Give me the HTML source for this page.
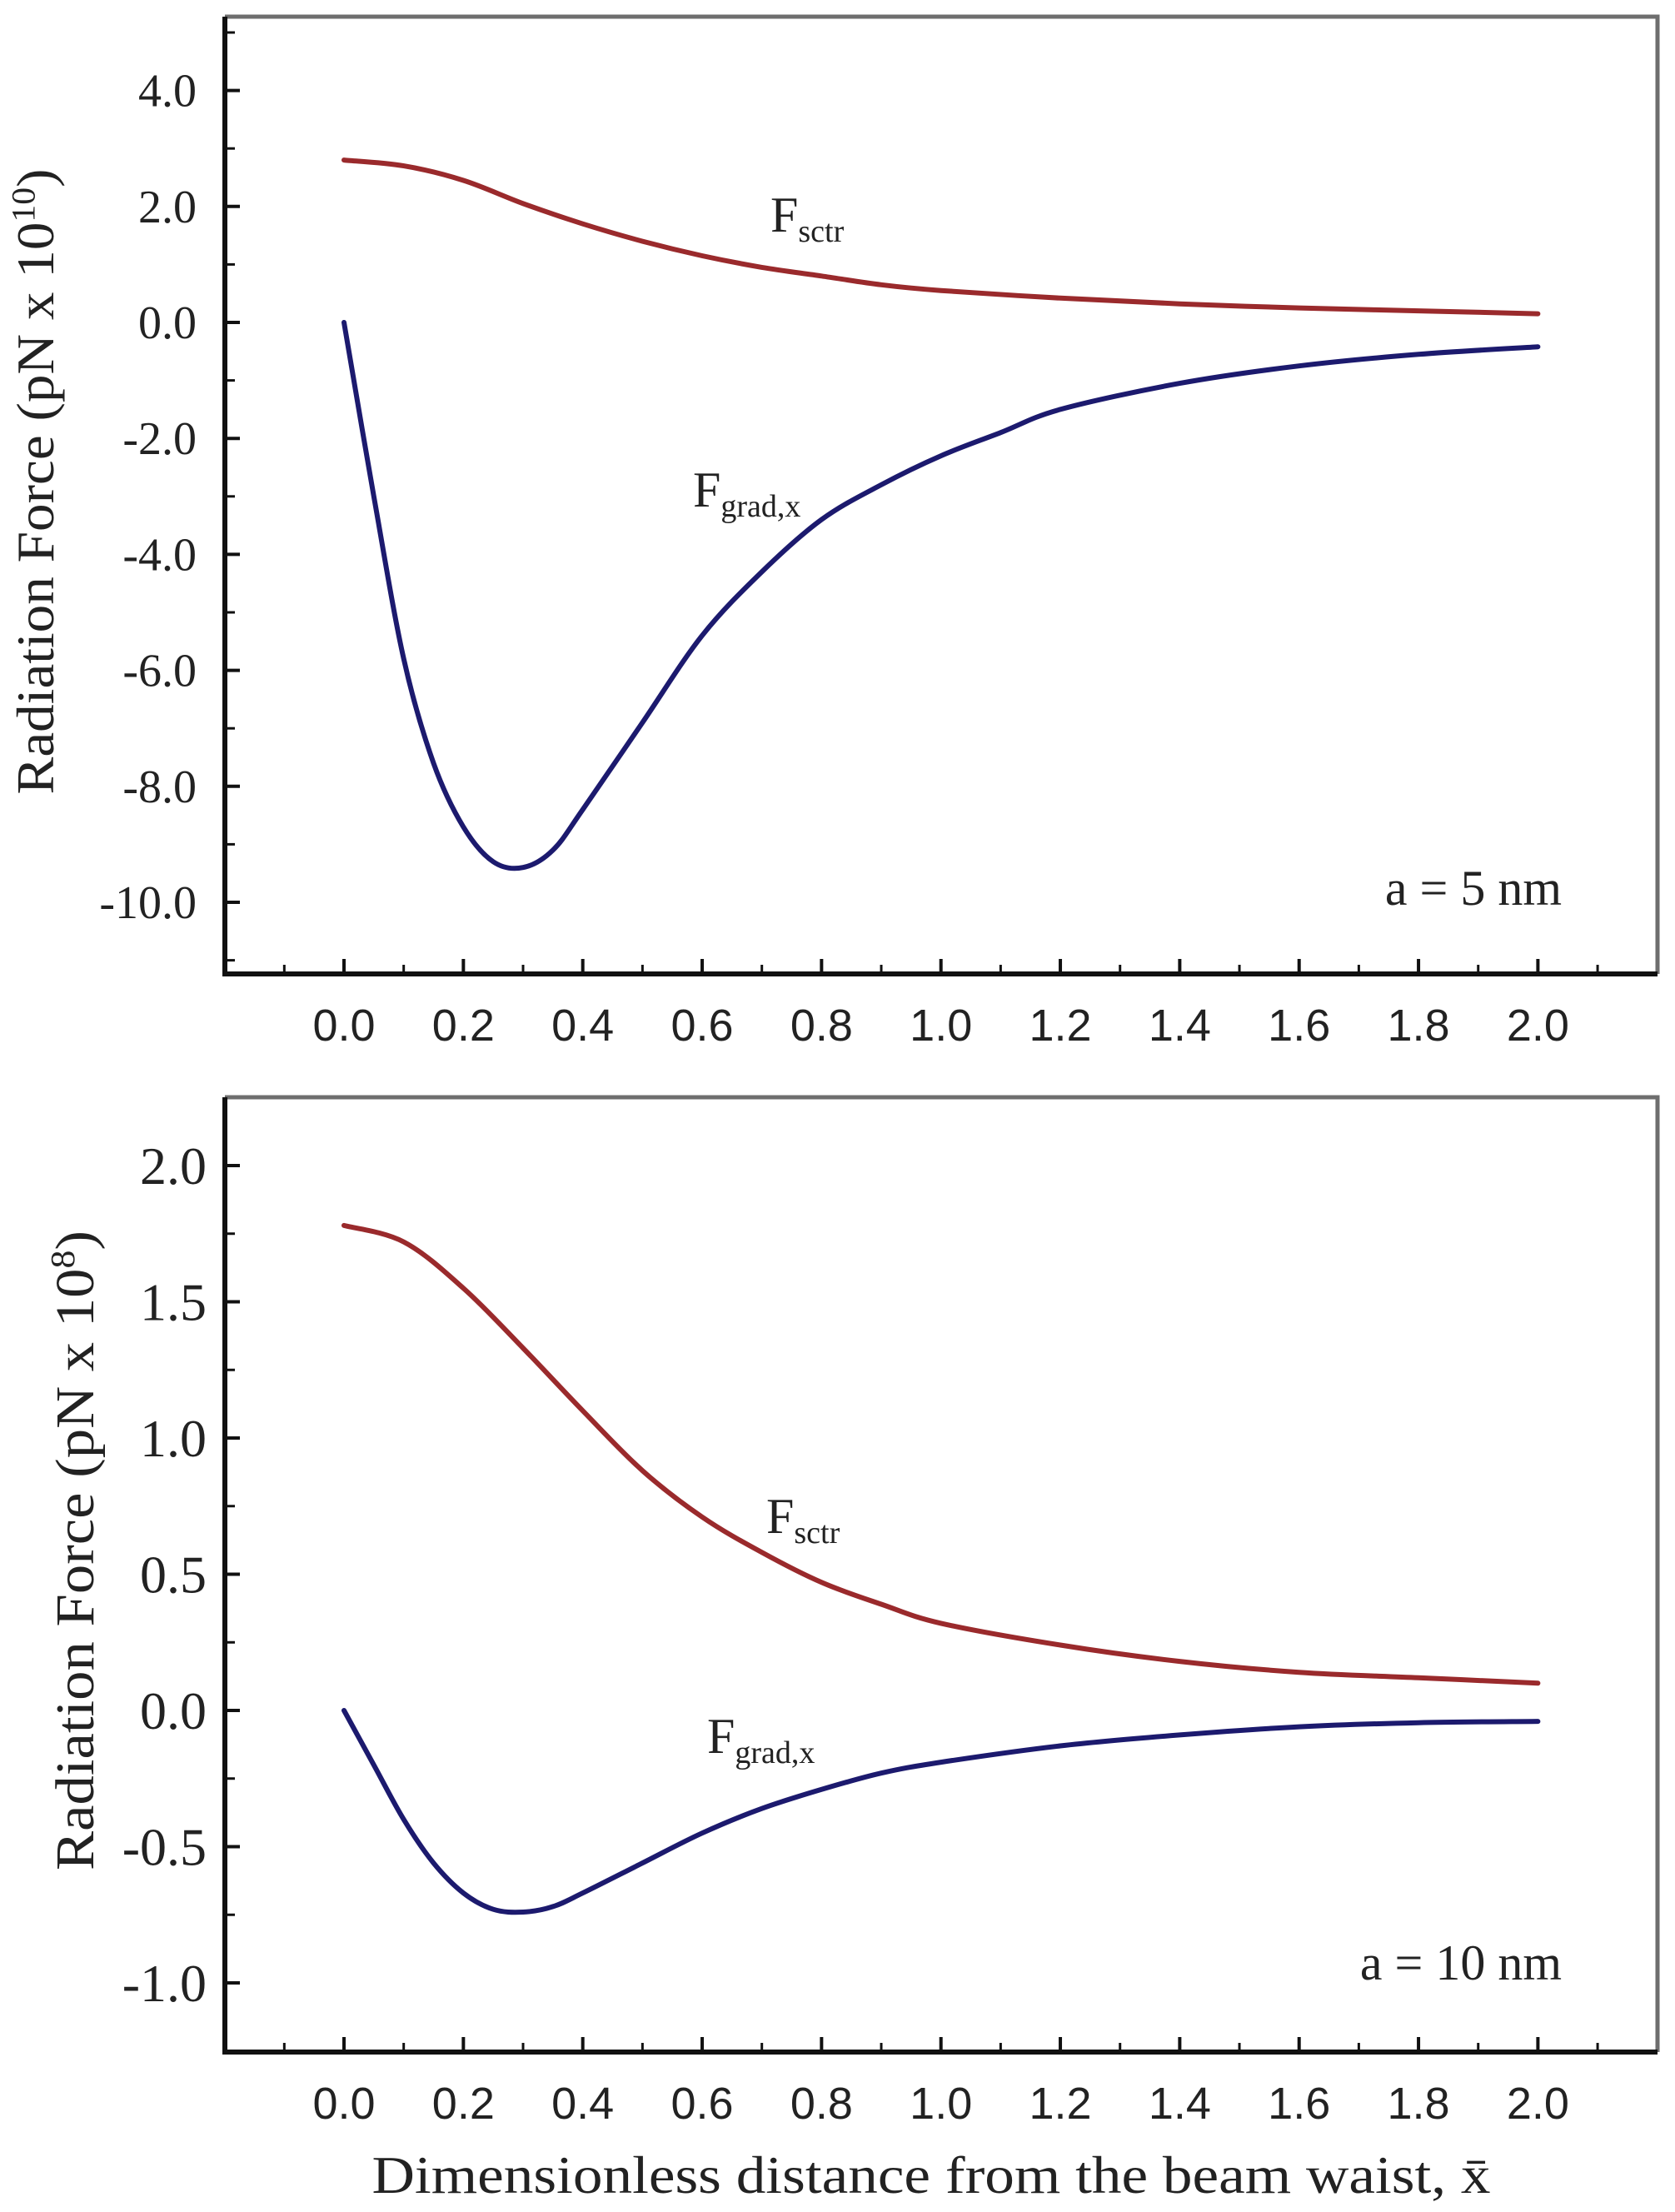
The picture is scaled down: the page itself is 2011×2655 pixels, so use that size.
<!DOCTYPE html>
<html><head><meta charset="utf-8">
<style>
html,body{margin:0;padding:0;background:#fff;}
svg{display:block;}
</style></head>
<body>
<svg id="fig" width="2011" height="2655" viewBox="0 0 2011 2655" xmlns="http://www.w3.org/2000/svg"></svg>
<script>
// ---- data ----
const xTicks = [0.0,0.2,0.4,0.6,0.8,1.0,1.2,1.4,1.6,1.8,2.0];
const xTickLabels = ["0.0","0.2","0.4","0.6","0.8","1.0","1.2","1.4","1.6","1.8","2.0"];
const topYTicks = [4,2,0,-2,-4,-6,-8,-10];
const topYTickLabels = ["4.0","2.0","0.0","-2.0","-4.0","-6.0","-8.0","-10.0"];
const botYTicks = [2.0,1.5,1.0,0.5,0.0,-0.5,-1.0];
const botYTickLabels = ["2.0","1.5","1.0","0.5","0.0","-0.5","-1.0"];

const topSctrX = [0,0.1,0.2,0.3,0.4,0.5,0.6,0.7,0.8,0.9,1.0,1.2,1.4,1.6,1.8,2.0];
const topSctrY = [2.8,2.7,2.45,2.05,1.7,1.4,1.15,0.95,0.8,0.65,0.55,0.42,0.32,0.25,0.2,0.15];
const topGradX = [0,0.05,0.1,0.15,0.2,0.25,0.3,0.35,0.4,0.5,0.6,0.7,0.8,0.9,1.0,1.1,1.2,1.4,1.6,1.8,2.0];
const topGradY = [0,-3,-5.8,-7.6,-8.7,-9.3,-9.4,-9.1,-8.4,-6.9,-5.4,-4.3,-3.4,-2.8,-2.3,-1.9,-1.5,-1.05,-0.75,-0.55,-0.42];

const botSctrX = [0,0.1,0.2,0.3,0.4,0.5,0.6,0.7,0.8,0.9,1.0,1.2,1.4,1.6,1.8,2.0];
const botSctrY = [1.78,1.72,1.55,1.33,1.1,0.88,0.71,0.58,0.47,0.39,0.32,0.24,0.18,0.14,0.12,0.1];
const botGradX = [0,0.05,0.1,0.15,0.2,0.25,0.3,0.35,0.4,0.5,0.6,0.7,0.8,0.9,1.0,1.2,1.4,1.6,1.8,2.0];
const botGradY = [0,-0.2,-0.4,-0.56,-0.67,-0.73,-0.74,-0.72,-0.67,-0.56,-0.45,-0.36,-0.29,-0.23,-0.19,-0.13,-0.09,-0.06,-0.045,-0.04];

const NS = "http://www.w3.org/2000/svg";
const svg = document.getElementById('fig');
function mk(tag, attrs, parent){
  const e = document.createElementNS(NS, tag);
  for (const k in attrs) e.setAttribute(k, attrs[k]);
  (parent||svg).appendChild(e);
  return e;
}
function xScale(v){ return 413 + 716.7*v; }
const SERIF = '"Liberation Serif", serif';
const SANS = '"Liberation Sans", sans-serif';

function smoothPath(pts){
  let d = 'M' + pts[0][0].toFixed(1) + ' ' + pts[0][1].toFixed(1);
  for (let i=0;i<pts.length-1;i++){
    const p0 = pts[Math.max(0,i-1)], p1 = pts[i], p2 = pts[i+1], p3 = pts[Math.min(pts.length-1,i+2)];
    const c1x = p1[0] + (p2[0]-p0[0])/6, c1y = p1[1] + (p2[1]-p0[1])/6;
    const c2x = p2[0] - (p3[0]-p1[0])/6, c2y = p2[1] - (p3[1]-p1[1])/6;
    d += ` C${c1x.toFixed(1)} ${c1y.toFixed(1)} ${c2x.toFixed(1)} ${c2y.toFixed(1)} ${p2[0].toFixed(1)} ${p2[1].toFixed(1)}`;
  }
  return d;
}

function panel(cfg){
  const g = mk('g', {});
  
  
  const L=270, R=1990, T=cfg.top, B=cfg.bottom;
  const fr = mk('path', {d:`M${L} ${T} H${R} V${B}`, fill:'none', stroke:'#6e6e6e', 'stroke-width':5}, g);
  
  
  const ax = mk('path', {d:`M${L} ${T} V${B} H${R}`, fill:'none', stroke:'#111', 'stroke-width':6}, g);
  
  
  for (let i=0;i<xTicks.length;i++){
    const x = xScale(xTicks[i]);
    const t = mk('line', {x1:x, x2:x, y1:B, y2:B-18, stroke:'#111', 'stroke-width':4}, g);
    
    
    const lb = mk('text', {x:x, y:B+80, 'font-family':SANS, 'font-size':54, 'text-anchor':'middle', fill:'#222'}, g);
    lb.textContent = xTickLabels[i];
    
    
  }
  for (let v=-0.1; v<2.15; v+=0.2){
    const x = xScale(v);
    const t = mk('line', {x1:x, x2:x, y1:B, y2:B-11, stroke:'#111', 'stroke-width':3}, g);
    
    
  }
  for (let i=0;i<cfg.yTicks.length;i++){
    const y = cfg.yScale(cfg.yTicks[i]);
    const t = mk('line', {x1:L, x2:L+18, y1:y, y2:y, stroke:'#111', 'stroke-width':4}, g);
    
    
    const lb = mk('text', {x:cfg.labelRight, y:y+cfg.yFont*0.34, 'font-family':SERIF, 'font-size':cfg.yFont, 'text-anchor':'end', fill:'#222'}, g);
    lb.textContent = cfg.yLabels[i];
    
    
  }
  for (const v of cfg.minor){
    const y = cfg.yScale(v);
    const t = mk('line', {x1:L, x2:L+12, y1:y, y2:y, stroke:'#111', 'stroke-width':3}, g);
    
    
  }
  const yt = mk('text', {x:0, y:0, transform:`translate(${cfg.titleX},${cfg.titleY}) rotate(-90)`, 'font-family':SERIF, 'font-size':cfg.titleFont, 'text-anchor':'middle', fill:'#222', textLength:cfg.titleLen, lengthAdjust:'spacingAndGlyphs'}, g);
  
  
  yt.appendChild(document.createTextNode('Radiation Force (pN x 10'));
  const sup = mk('tspan', {dy:-cfg.titleFont*0.35, 'font-size':cfg.titleFont*0.62}, yt);
  sup.textContent = cfg.exp;
  const cl = mk('tspan', {dy:cfg.titleFont*0.35}, yt);
  cl.textContent = ')';
  function line(xs, ys, color, name){
    const pts = xs.map((x,i)=>[xScale(x), cfg.yScale(ys[i])]);
    const p = mk('path', {d:smoothPath(pts), fill:'none', stroke:color, 'stroke-width':6, 'stroke-linejoin':'round', 'stroke-linecap':'round'}, g);
    
    
  }
  line(cfg.sx, cfg.sy, '#9a2a2c', 'f-sctr-line');
  line(cfg.gx, cfg.gy, '#1c1a6e', 'f-grad-x-line');
  function ann(x, y, main, sub, name){
    const t = mk('text', {x:x, y:y, 'font-family':SERIF, 'font-size':60, fill:'#222'}, g);
    
    
    t.appendChild(document.createTextNode(main));
    const s = mk('tspan', {dy:12, 'font-size':38}, t);
    s.textContent = sub;
  }
  ann(cfg.sLab[0], cfg.sLab[1], 'F', 'sctr', 'f-sctr-label');
  ann(cfg.gLab[0], cfg.gLab[1], 'F', 'grad,x', 'f-grad-x-label');
  const a = mk('text', {x:1875, y:cfg.aY, 'font-family':SERIF, 'font-size':60, 'text-anchor':'end', fill:'#222'}, g);
  a.textContent = cfg.aText;
  
  
}

panel({name:'top-panel', top:20, bottom:1169,
  yScale: v => 387 - 69.6*v,
  yTicks: topYTicks, yLabels: topYTickLabels, minor:[5,3,1,-1,-3,-5,-7,-9,-11],
  labelRight:236, yFont:56, titleX:64, titleY:578, titleFont:64, titleLen:751, exp:'10',
  sx:topSctrX, sy:topSctrY, gx:topGradX, gy:topGradY,
  sLab:[925,278], gLab:[832,608], aY:1086, aText:'a = 5 nm'});

panel({name:'bottom-panel', top:1317, bottom:2463,
  yScale: v => 2053 - 327*v,
  yTicks: botYTicks, yLabels: botYTickLabels, minor:[1.75,1.25,0.75,0.25,-0.25,-0.75],
  labelRight:248, yFont:64, titleX:112, titleY:1861, titleFont:66, titleLen:768, exp:'8',
  sx:botSctrX, sy:botSctrY, gx:botGradX, gy:botGradY,
  sLab:[920,1840], gLab:[849,2104], aY:2376, aText:'a = 10 nm'});

const xt = mk('text', {x:1118, y:2632, 'font-family':SERIF, 'font-size':64, 'text-anchor':'middle', fill:'#222', textLength:1343, lengthAdjust:'spacingAndGlyphs'});
xt.textContent = 'Dimensionless  distance  from the beam waist, x\u0304';


</script>
</body></html>
